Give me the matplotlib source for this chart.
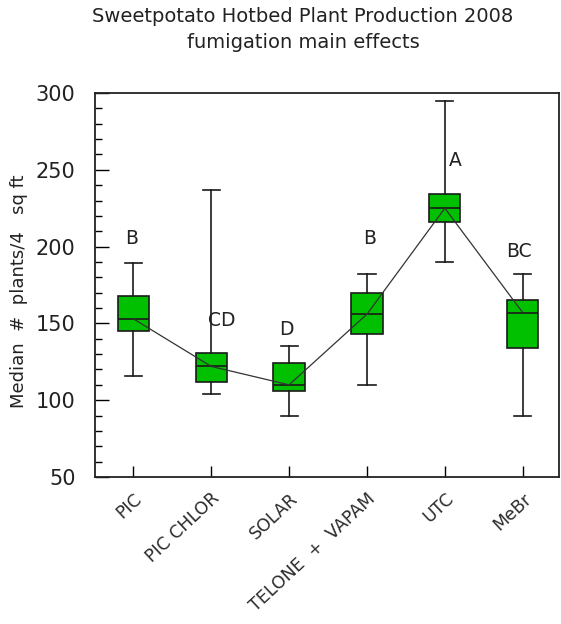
import matplotlib
matplotlib.use("Agg")
import matplotlib.pyplot as plt
from matplotlib.ticker import MultipleLocator

categories = ["PIC", "PIC CHLOR", "SOLAR", "TELONE  +  VAPAM", "UTC", "MeBr"]
whisker_low = [116, 104, 90, 110, 190, 90]
q1 = [145, 112, 106, 143, 216, 134]
median = [153, 122, 110, 156, 225, 157]
q3 = [168, 131, 124, 170, 234, 165]
whisker_high = [189, 237, 135, 182, 295, 182]
letters = ["B", "CD", "D", "B", "A", "BC"]
letter_y = [205, 152, 146, 205, 256, 197]
letter_dx = [-0.02, 0.13, -0.03, 0.03, 0.14, -0.05]

W, H = 561, 624
fig = plt.figure(figsize=(W / 100, H / 100), dpi=100)
ax = fig.add_axes([95 / W, (H - 477) / H, (559 - 95) / W, (477 - 93) / H])

pos = list(range(1, len(categories) + 1))
stats = []
for i in range(len(categories)):
    stats.append(dict(whislo=whisker_low[i], q1=q1[i], med=median[i], q3=q3[i],
                      whishi=whisker_high[i], fliers=[], label=categories[i]))

ax.bxp(stats, positions=pos, widths=0.4, patch_artist=True, showfliers=False,
       boxprops=dict(facecolor="#00c000", edgecolor="#1a1a1a", linewidth=1.2),
       medianprops=dict(color="#1a1a1a", linewidth=1.2),
       whiskerprops=dict(color="#1a1a1a", linewidth=1.2),
       capprops=dict(color="#1a1a1a", linewidth=1.2),
       capwidths=0.22)

ax.plot(pos, median, color="#333333", linewidth=0.9, zorder=5)

for i, (lt, ly, dx) in enumerate(zip(letters, letter_y, letter_dx)):
    ax.text(pos[i] + dx, ly, lt, ha="center", va="center", fontsize=13.5, color="#222222")

ax.set_xlim(0.508, 6.466)
ax.set_ylim(50, 300)
ax.yaxis.set_major_locator(MultipleLocator(50))
ax.yaxis.set_minor_locator(MultipleLocator(10))
ax.tick_params(axis="y", which="major", direction="in", length=10, width=1, labelsize=15,
               pad=14, right=False, labelcolor="#222222")
ax.tick_params(axis="y", which="minor", direction="in", length=5, width=1, right=False)
ax.tick_params(axis="x", which="major", direction="in", length=8, width=1, top=False)
ax.set_xticks(pos)
ax.set_xticklabels(categories, rotation=43, ha="right", va="top", rotation_mode="anchor",
                   fontsize=12.5, color="#2a2a2a")
for lbl in ax.get_xticklabels():
    lbl.set_y(-0.02)
for s in ax.spines.values():
    s.set_linewidth(1.3)
    s.set_color("#222222")

ax.set_ylabel("Median  #  plants/4   sq ft", fontsize=13, color="#222222")
ax.yaxis.set_label_coords(-0.145, 0.485)

fig.text(303 / W, 1 - 17 / H, "Sweetpotato Hotbed Plant Production 2008", ha="center",
         va="center", fontsize=14, color="#222222")
fig.text(303 / W, 1 - 43 / H, "fumigation main effects", ha="center", va="center",
         fontsize=14, color="#222222")

fig.savefig("out.png", dpi=100)
